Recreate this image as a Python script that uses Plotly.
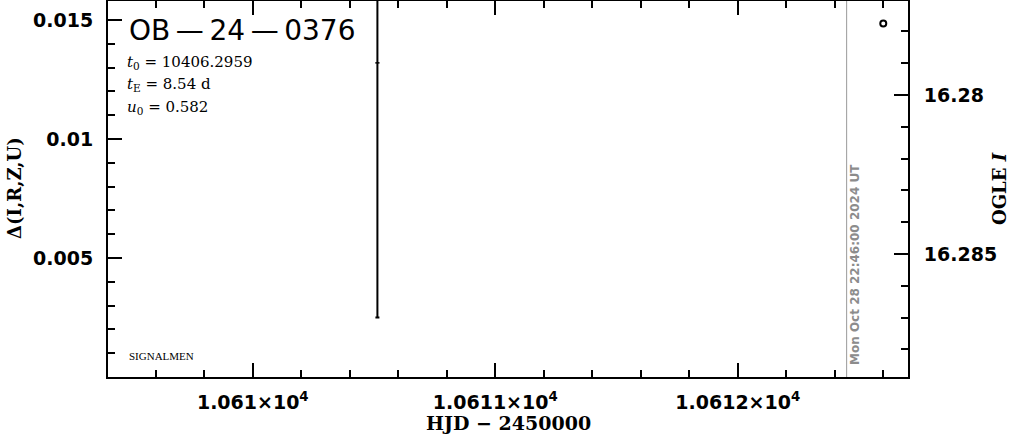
import plotly.graph_objects as go

# ---------------- data ----------------
x_ticks = [10610, 10611, 10612]
x_tick_text = ["1.061×10<sup>4</sup>", "1.0611×10<sup>4</sup>", "1.0612×10<sup>4</sup>"]
left_ticks = [0.005, 0.01, 0.015]
left_tick_text = ["0.005", "0.01", "0.015"]
right_ticks = [16.28, 16.285]
right_tick_text = ["16.28", "16.285"]

# residual (Delta) point with its error bar
delta_hjd = [10610.514]
delta_val = [0.0132]
delta_err = [0.0107]

# OGLE I photometry
ogle_hjd = [10612.600]
ogle_mag = [16.27775]

now_hjd = 10612.449
now_label = "Mon Oct 28 22:46:00 2024 UT"

event_name = "OB\u2009—\u200924\u2009—\u20090376"
t0_text = "10406.2959"
tE_text = "8.54 d"
u0_text = "0.582"

x_range = [10609.403, 10612.702]
left_range = [0.0, 0.0158]
right_range = [16.288868, 16.277044]

# ---------------- figure ----------------
fig = go.Figure()

fig.add_trace(go.Scatter(
    x=delta_hjd, y=delta_val, mode="markers",
    marker=dict(symbol="line-ew", size=3, color="black", line=dict(width=1.5, color="black")),
    error_y=dict(type="data", array=delta_err, color="black", thickness=2, width=2),
    showlegend=False, hoverinfo="skip",
))

fig.add_trace(go.Scatter(
    x=ogle_hjd, y=ogle_mag, yaxis="y2", mode="markers",
    marker=dict(symbol="circle-open", size=6, color="black", line=dict(width=2, color="black")),
    showlegend=False, hoverinfo="skip",
))

fig.add_shape(type="line", xref="x", yref="paper", x0=now_hjd, x1=now_hjd, y0=0, y1=1,
              line=dict(color="#999999", width=1))

tickfont = dict(family="DejaVu Sans", size=19, color="black", weight="bold")
common = dict(ticks="inside", ticklen=14, tickwidth=2, tickcolor="black",
              showline=True, linecolor="black", linewidth=2,
              showgrid=False, zeroline=False, tickfont=tickfont,
              automargin=False)

fig.update_layout(
    width=1011, height=434,
    margin=dict(l=108, r=103, t=1, b=57, autoexpand=False),
    paper_bgcolor="white", plot_bgcolor="white",
    showlegend=False,
    xaxis=dict(range=x_range, tickmode="array", tickvals=x_ticks, ticktext=x_tick_text,
               mirror="ticks", ticklabelstandoff=7,
               minor=dict(tickmode="linear", tick0=10610, dtick=0.2, ticks="inside",
                          ticklen=7, tickwidth=2, tickcolor="black", showgrid=False),
               **common),
    yaxis=dict(range=left_range, tickmode="array", tickvals=left_ticks, ticktext=left_tick_text,
               side="left", mirror=False, ticklabelstandoff=9,
               minor=dict(tickmode="linear", tick0=0.0, dtick=0.001, ticks="inside",
                          ticklen=7, tickwidth=2, tickcolor="black", showgrid=False),
               **common),
    yaxis2=dict(range=right_range, tickmode="array", tickvals=right_ticks, ticktext=right_tick_text,
                overlaying="y", side="right", mirror=False, ticklabelstandoff=10,
                minor=dict(tickmode="linear", tick0=16.28, dtick=0.001, ticks="inside",
                           ticklen=7, tickwidth=2, tickcolor="black", showgrid=False),
                **common),
)

def px_x(p):
    return (p - 108) / 800.0

def px_y(p):
    return (377 - p) / 376.0

ann = []
ann.append(dict(text=event_name, x=px_x(127), y=px_y(30), xanchor="left", yanchor="middle",
                font=dict(family="DejaVu Sans", size=28, color="black")))
pfont = dict(family="DejaVu Serif", size=15, color="black")
ann.append(dict(text="<i>t</i><sub>0</sub> = " + t0_text, x=px_x(125), y=px_y(62.5),
                xanchor="left", yanchor="middle", font=pfont))
ann.append(dict(text="<i>t</i><sub>E</sub> = " + tE_text, x=px_x(125), y=px_y(84.5),
                xanchor="left", yanchor="middle", font=pfont))
ann.append(dict(text="<i>u</i><sub>0</sub> = " + u0_text, x=px_x(125), y=px_y(107.5),
                xanchor="left", yanchor="middle", font=pfont))
ann.append(dict(text="SIGNALMEN", x=px_x(127), y=px_y(355.5), xanchor="left", yanchor="middle",
                font=dict(family="Liberation Serif", size=11, color="black")))
ann.append(dict(text="<b>" + now_label + "</b>", x=px_x(855), y=px_y(265), textangle=-90,
                xanchor="center", yanchor="middle",
                font=dict(family="DejaVu Sans", size=12, color="#8c8c8c")))
ann.append(dict(text="HJD \u2212 2450000", x=0.5, y=px_y(423), xanchor="center", yanchor="middle",
                font=dict(family="DejaVu Serif", size=19, color="black", weight="bold")))
ann.append(dict(text="Δ(I,R,Z,U)", x=px_x(14), y=px_y(188), textangle=-90,
                xanchor="center", yanchor="middle",
                font=dict(family="DejaVu Serif", size=18, color="black", weight="bold")))
ann.append(dict(text="OGLE <i>I</i>", x=px_x(999), y=px_y(189), textangle=-90,
                xanchor="center", yanchor="middle",
                font=dict(family="DejaVu Serif", size=18, color="black", weight="bold")))
for a in ann:
    a.update(xref="paper", yref="paper", showarrow=False)
fig.update_layout(annotations=ann)

fig.write_html("out.html", config={"displayModeBar": False},
               post_script="document.body.style.margin='0';document.body.style.padding='0';")
